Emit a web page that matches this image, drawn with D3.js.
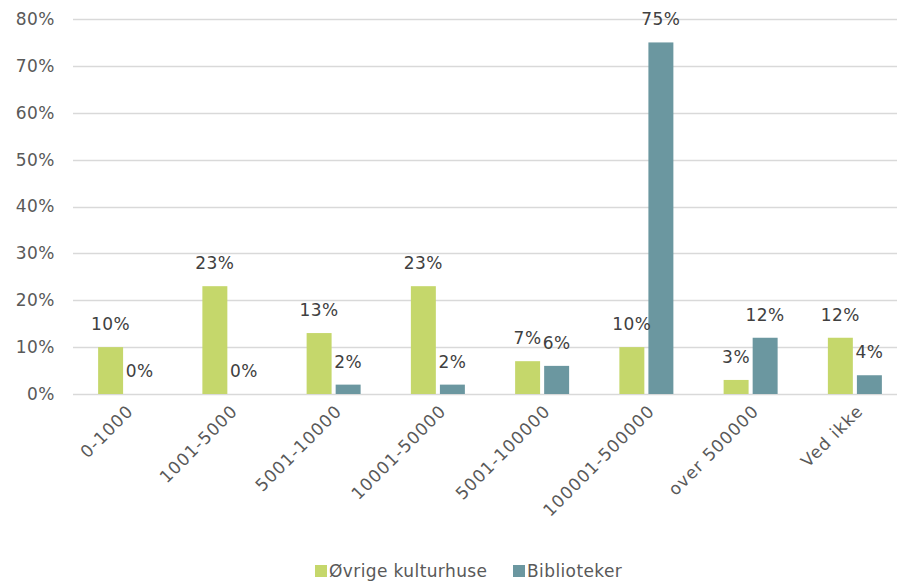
<!DOCTYPE html>
<html>
<head>
<meta charset="utf-8">
<script src="https://cdn.jsdelivr.net/npm/d3@7"></script>
<style>
  body { margin: 0; background: #fff; }
  text { font-family: 'DejaVu Sans', sans-serif; fill: #595959; letter-spacing: 0.5px; }
</style>
</head>
<body>
<div id="graf"></div>
<script>
// data
const kategorier = ['0-1000', '1001-5000', '5001-10000', '10001-50000', '5001-100000', '100001-500000', 'over 500000', 'Ved ikke']
const serier = ['Øvrige kulturhuse', 'Biblioteker']
const ovrige = [10, 23, 13, 23, 7, 10, 3, 12]
const biblioteker = [0, 0, 2, 2, 6, 75, 12, 4]
const yTicks = [0, 10, 20, 30, 40, 50, 60, 70, 80]
const farver = ['#c5d76b', '#6b97a0']

const anchoTotal = 897
const altoTotal = 582

const svg = d3.select('#graf')
  .append('svg')
  .attr('width', anchoTotal)
  .attr('height', altoTotal)

// scales
const x0 = d3.scaleBand().domain(kategorier).range([73, 907])
const x1 = d3.scaleBand().domain(serier)
  .range([x0.bandwidth() / 2 - 27, x0.bandwidth() / 2 + 27])
  .paddingInner(0.14)
const y = d3.scaleLinear().domain([0, 80]).range([394, 19])
const color = d3.scaleOrdinal().domain(serier).range(farver)

// gridlines
svg.append('g')
  .selectAll('line')
  .data(yTicks)
  .join('line')
  .attr('x1', 73)
  .attr('x2', 897)
  .attr('y1', (d) => Math.round(y(d)) + 0.5)
  .attr('y2', (d) => Math.round(y(d)) + 0.5)
  .attr('stroke', '#d9d9d9')
  .attr('stroke-width', 1.3)

// y labels
svg.append('g')
  .selectAll('text')
  .data(yTicks)
  .join('text')
  .attr('x', 55)
  .attr('y', (d) => y(d))
  .attr('dy', '0.35em')
  .attr('text-anchor', 'end')
  .style('font-size', '17px')
  .text((d) => d + '%')

// bars
const tabla = kategorier.map((k, i) => ({
  kat: k,
  vals: [
    { serie: serier[0], v: ovrige[i] },
    { serie: serier[1], v: biblioteker[i] },
  ],
}))

const grupos = svg.append('g')
  .selectAll('g')
  .data(tabla)
  .join('g')
  .attr('transform', (d) => `translate(${x0(d.kat)},0)`)

grupos.selectAll('rect')
  .data((d) => d.vals)
  .join('rect')
  .attr('x', (d) => x1(d.serie))
  .attr('y', (d) => y(d.v))
  .attr('width', x1.bandwidth())
  .attr('height', (d) => y(0) - y(d.v))
  .attr('fill', (d) => color(d.serie))

grupos.selectAll('text')
  .data((d) => d.vals)
  .join('text')
  .attr('x', (d) => x1(d.serie) + x1.bandwidth() / 2)
  .attr('y', (d) => y(d.v) - 23)
  .attr('dy', '0.35em')
  .attr('text-anchor', 'middle')
  .style('font-size', '17px')
  .style('fill', '#404040')
  .text((d) => d.v + '%')

// x labels
svg.append('g')
  .selectAll('text')
  .data(kategorier)
  .join('text')
  .attr('text-anchor', 'end')
  .attr('transform', (d) => `translate(${x0(d) + x0.bandwidth() / 2 + 5},${408}) rotate(-45)`)
  .attr('dy', '0.35em')
  .style('font-size', '17px')
  .style('letter-spacing', '1px')
  .text((d) => d)

// legend
const legend = svg.append('g')
const items = [
  { serie: serier[0], x: 315 },
  { serie: serier[1], x: 513 },
]
legend.selectAll('rect')
  .data(items)
  .join('rect')
  .attr('x', (d) => d.x)
  .attr('y', 565)
  .attr('width', 12)
  .attr('height', 12)
  .attr('fill', (d) => color(d.serie))
legend.selectAll('text')
  .data(items)
  .join('text')
  .attr('x', (d) => d.x + 14)
  .attr('y', 571)
  .attr('dy', '0.35em')
  .style('font-size', '17px')
  .style('letter-spacing', '0.4px')
  .text((d) => d.serie)
</script>
</body>
</html>
